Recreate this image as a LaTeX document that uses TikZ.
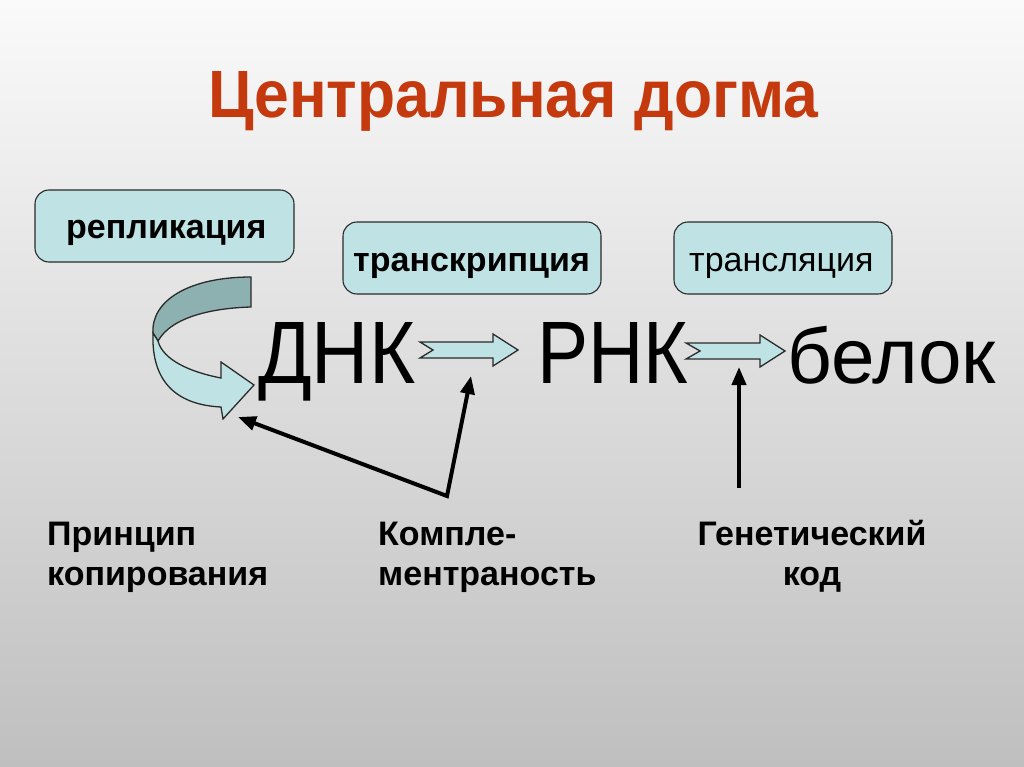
\documentclass[tikz,border=0pt]{standalone}
\usepackage{fontspec}
\setmainfont{Liberation Sans}
\usetikzlibrary{arrows.meta}
\definecolor{titlered}{HTML}{C43A0E}
\definecolor{boxfill}{HTML}{BFE3E4}
\definecolor{backfill}{HTML}{8DB0B0}
\definecolor{bgtop}{HTML}{FAFAFA}
\definecolor{bgbot}{HTML}{BFBFBF}
\definecolor{edge}{HTML}{2A2A2A}
\begin{document}
\begin{tikzpicture}[x=1pt,y=-1pt,
  lbl/.style={inner sep=0pt, anchor=base west},
  small/.style={font=\fontsize{34pt}{40pt}\selectfont},
  boxshape/.style={draw=edge, line width=1.1pt, fill=boxfill, rounded corners=14pt},
  blockarrow/.style={draw=edge, line width=1.3pt, fill=boxfill, line join=miter},
  pointer/.style={line width=4pt, {Triangle[length=18pt,width=14pt]}-{Triangle[length=18pt,width=14pt]}},
  uppointer/.style={line width=4pt, -{Triangle[length=18pt,width=14pt]}}]

\shade[top color=bgtop, bottom color=bgbot] (0,0) rectangle (1024,767);
\useasboundingbox (0,0) rectangle (1024,767);

% title
\node[lbl, text=titlered] (title) at (208,118) {\resizebox{610pt}{46pt}{\bfseries Центральная догма}};

% boxes
\draw[boxshape] (35,190) rectangle (294,262);
\node[lbl, small] (rep) at (66,239) {\bfseries репликация};
\draw[boxshape] (343,222) rectangle (601,294);
\node[lbl, small] (trc) at (353,271) {\bfseries транскрипция};
\draw[boxshape] (674,222) rectangle (892,294);
\node[lbl, small] (trl) at (689,271) {трансляция};

% main words
\node[lbl] (dna) at (258,383) {\resizebox{157pt}{61pt}{ДНК}};
\node[lbl] (rna) at (537,383) {\resizebox{151pt}{61pt}{РНК}};
\node[lbl] (prot) at (787,383) {\resizebox{209pt}{!}{белок}};

% curved replication arrow
\draw[blockarrow, fill=backfill] (251,277) -- (251,307)
  .. controls (215,308) and (172,316) .. (158,341)
  -- (153,333)
  .. controls (151,300) and (190,277) .. (251,277) -- cycle;
\draw[blockarrow] (153,333) .. controls (151,385) and (180,405) .. (221,407)
  -- (223,419) -- (254,385) -- (221,362) -- (221,378)
  .. controls (190,372) and (163,360) .. (158,341) -- cycle;

% block arrows
\draw[blockarrow] (420,342) -- (493,342) -- (493,334) -- (518,350) -- (493,366) -- (493,358) -- (420,358) -- (433,350) -- cycle;
\draw[blockarrow] (686,343) -- (760,343) -- (760,335) -- (785,351) -- (760,367) -- (760,359) -- (686,359) -- (700,351) -- cycle;

% black pointers
\coordinate (t1) at (238,417);
\coordinate (j) at (447,496);
\coordinate (t2) at (471,376);
\coordinate (g1) at (739,488);
\coordinate (g2) at (739,367);
\draw[pointer] (t1) -- (j) -- (t2);
\draw[uppointer] (g1) -- (g2);

% lower labels
\node[lbl, small, align=left] (copy) at (47,585) {\bfseries Принцип\\\bfseries копирования};
\node[lbl, small, align=left] (compl) at (378,585) {\bfseries Компле-\\\bfseries ментраность};
\node[small, align=center, inner sep=0pt, anchor=base] (code) at (812,585) {\bfseries Генетический\\\bfseries код};
\end{tikzpicture}
\end{document}
